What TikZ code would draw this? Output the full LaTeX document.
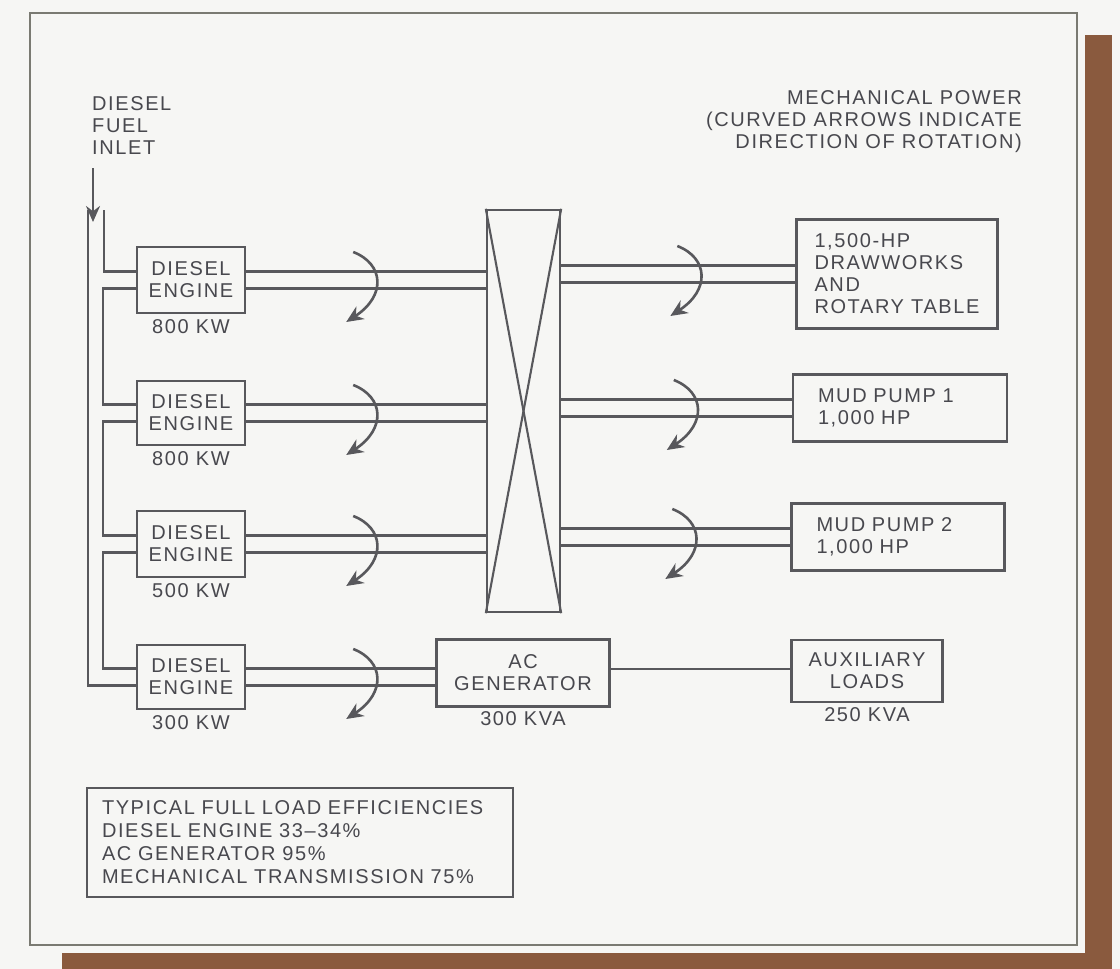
\documentclass[tikz,border=0pt]{standalone}
\usepackage{fontspec}
\setmainfont{Liberation Sans}[LetterSpace=8.0]
\usetikzlibrary{arrows.meta,calc}
\definecolor{ink}{HTML}{48484E}
\definecolor{linec}{HTML}{58585C}
\definecolor{paper}{HTML}{F6F6F4}
\definecolor{framec}{HTML}{7A7A72}
\definecolor{brownbar}{HTML}{8A5A3E}
\begin{document}
\begin{tikzpicture}[x=1pt,y=-1pt,
  font=\fontsize{20}{22}\selectfont, text=ink,
  box/.style={draw=linec, line width=2.4pt, inner sep=0pt, align=center},
  lbl/.style={inner sep=0pt, text=ink},
  shaft/.style={draw=linec, line width=2.1pt},
  fuel/.style={draw=linec, line width=2.1pt},
  rotarrow/.style={draw=linec, line width=2.6pt, -{Stealth[length=17pt,width=15pt]}},
  rotarr/.pic={\draw[rotarrow] (-23,-28) .. controls (8,-16) and (10,16) .. (-30,42);}
]
\useasboundingbox (0,0) rectangle (1120,969);
\fill[paper] (0,0) rectangle (1120,969);
% shadow bars and frame
\fill[brownbar] (1085,35) rectangle (1112,969);
\fill[brownbar] (62,953) rectangle (1112,969);
\draw[framec, line width=1.6pt] (30,13) rectangle (1077,945);

% texts
\node[lbl, anchor=west, align=left] (fueltxt) at (92,126) {DIESEL\\FUEL\\INLET};
\node[lbl, anchor=east, align=right] (title) at (1022,122) {MECHANICAL POWER\\(CURVED ARROWS INDICATE\\DIRECTION OF ROTATION)};

% engines
\node[box, minimum width=108pt, minimum height=66pt] (e1) at (191,280) {DIESEL\\ENGINE};
\node[box, minimum width=108pt, minimum height=64pt] (e2) at (191,413) {DIESEL\\ENGINE};
\node[box, minimum width=108pt, minimum height=66pt] (e3) at (191,544) {DIESEL\\ENGINE};
\node[box, minimum width=108pt, minimum height=64pt] (e4) at (191,677) {DIESEL\\ENGINE};
\node[lbl, anchor=north] (e1k) at ([yshift=-5pt]e1.south) {800 KW};
\node[lbl, anchor=north] (e2k) at ([yshift=-5pt]e2.south) {800 KW};
\node[lbl, anchor=north] (e3k) at ([yshift=-5pt]e3.south) {500 KW};
\node[lbl, anchor=north] (e4k) at ([yshift=-5pt]e4.south) {300 KW};

% transmission box
\node[draw=linec, line width=2.4pt, minimum width=73pt, minimum height=402pt, inner sep=0pt] (xb) at (523.5,411) {};
\draw[linec, line width=2.1pt] (xb.north west) -- (xb.south east);
\draw[linec, line width=2.1pt] (xb.north east) -- (xb.south west);

% loads
\node[box, align=left, inner xsep=18pt, minimum height=109pt] (l1) at (897,274) {1,500-HP\\DRAWWORKS\\AND\\ROTARY TABLE};
\node[box, align=left, text width=164pt, inner xsep=25pt, minimum height=67pt] (l2) at (900,408) {MUD PUMP 1\\1,000 HP};
\node[box, align=left, text width=163pt, inner xsep=25pt, minimum height=67pt] (l3) at (898,537) {MUD PUMP 2\\1,000 HP};
\node[box, minimum width=151pt, minimum height=62pt] (aux) at (867,671) {AUXILIARY\\LOADS};
\node[lbl, anchor=north] (auxk) at ([yshift=-4pt]aux.south) {250 KVA};
\node[box, minimum width=173pt, minimum height=67pt] (ac) at (523,673) {AC\\GENERATOR};
\node[lbl, anchor=north] (ack) at ([yshift=-4pt]ac.south) {300 KVA};

% legend
\node[box, align=left, text width=396pt, inner xsep=15pt, minimum height=109pt, font=\fontsize{20}{23}\selectfont] (leg) at (300,842.5)
  {TYPICAL FULL LOAD EFFICIENCIES\\DIESEL ENGINE 33--34\%\\AC GENERATOR 95\%\\MECHANICAL TRANSMISSION 75\%};

% fuel inlet
\coordinate (fin) at (93,168);
\coordinate (ftip) at (93,222);
\coordinate (fo) at (88,210);
\coordinate (fi) at (104,210);
\draw[fuel, -{Stealth[length=16pt,width=14pt]}] (fin) -- (ftip);
\draw[fuel] (fo) |- ([yshift=-8.5pt]e4.west);
\draw[fuel] (fi) |- ([yshift=8.5pt]e1.west);
\draw[fuel] ([yshift=-8.5pt]e1.west) -- ++(-33,0) |- ([yshift=8.5pt]e2.west);
\draw[fuel] ([yshift=-8.5pt]e2.west) -- ++(-33,0) |- ([yshift=8.5pt]e3.west);
\draw[fuel] ([yshift=-8.5pt]e3.west) -- ++(-33,0) |- ([yshift=8.5pt]e4.west);

% shafts engine -> transmission
\foreach \e in {e1,e2,e3}{
  \draw[shaft] ([yshift=8.5pt]\e.east) -- ([yshift=8.5pt]\e.east -| xb.west);
  \draw[shaft] ([yshift=-8.5pt]\e.east) -- ([yshift=-8.5pt]\e.east -| xb.west);
}
\draw[shaft] ([yshift=8.5pt]e4.east) -- ([yshift=8.5pt]e4.east -| ac.west);
\draw[shaft] ([yshift=-8.5pt]e4.east) -- ([yshift=-8.5pt]e4.east -| ac.west);
% shafts transmission -> loads
\foreach \l in {l1,l2,l3}{
  \draw[shaft] ([yshift=8.5pt]\l.west -| xb.east) -- ([yshift=8.5pt]\l.west);
  \draw[shaft] ([yshift=-8.5pt]\l.west -| xb.east) -- ([yshift=-8.5pt]\l.west);
}
\draw[shaft] ([yshift=4pt]ac.east) -- ([yshift=4pt]ac.east -| aux.west);

% rotation arrows
\foreach \e in {e1,e2,e3,e4}{ \pic at ($(\e.east)+(130,0)$) {rotarr}; }
\foreach \l in {l1,l2,l3}{ \pic at ($(\l.west)+(-95,0)$) {rotarr}; }
\end{tikzpicture}
\end{document}
